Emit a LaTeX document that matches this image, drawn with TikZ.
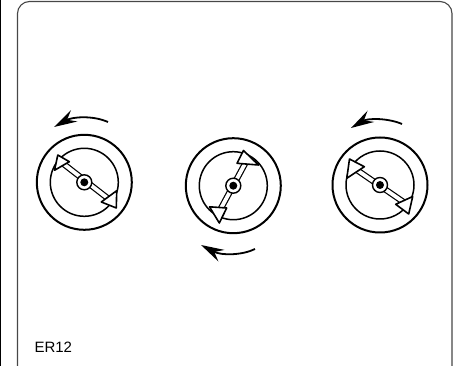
\documentclass[tikz,border=0pt]{standalone}
\usepackage{fontspec}
\setmainfont{Liberation Sans}
\usetikzlibrary{arrows.meta}

\begin{document}
\begin{tikzpicture}[
    x=1pt, y=-1pt,
    frame/.style={draw=black!72, line width=1.1pt, rounded corners=12pt},
    outer/.style={draw, circle, line width=2pt, minimum size=95pt, inner sep=0pt},
    inner/.style={draw, circle, line width=1.5pt, minimum size=68pt, inner sep=0pt},
    hub/.style={draw, circle, fill=white, line width=1.4pt, minimum size=15pt, inner sep=0pt},
    dot/.style={circle, fill=black, minimum size=8pt, inner sep=0pt},
    shaft/.style={draw=black, line width=1.2pt, double=white, double distance=3.8pt},
    head/.style={draw, fill=white, line width=1.6pt, line join=round},
    turn/.style={line width=1.8pt, -{Stealth[length=23pt, width=13pt, inset=8pt]}},
    label/.style={font=\fontsize{15}{18}\selectfont, anchor=base west, inner sep=0pt}
]
    \useasboundingbox (0,0) rectangle (456,366);
    \draw[line width=1.4pt] (0.7,0) -- (0.7,366);
    \draw[frame] (17.5,366.5) -- (17.5,1.5) -- (452,1.5) -- (452,366.5);

    % left dial
    \node[outer] (o1) at (84.3,182.3) {};
    \node[inner] (i1) at (84.3,182.3) {};
    \coordinate (a1) at (61,162);
    \coordinate (b1) at (110,200);
    \draw[shaft] (a1) -- (b1);
    \draw[head] (57.8,155) -- (69.3,161.7) -- (54.5,170.3) -- cycle;
    \draw[head] (116.7,190.7) -- (101.3,202) -- (116.3,208) -- cycle;
    \node[hub] (h1) at (84.3,182.3) {};
    \node[dot] (c1) at (84.3,182.3) {};

    % middle dial
    \node[outer] (o2) at (233.3,185.7) {};
    \node[inner] (i2) at (233.3,185.7) {};
    \coordinate (a2) at (247,160);
    \coordinate (b2) at (219,212);
    \draw[shaft] (a2) -- (b2);
    \draw[head] (243.5,150.5) -- (258.5,165) -- (237,163.3) -- cycle;
    \draw[head] (209.5,206.8) -- (226.7,208) -- (219.3,223) -- cycle;
    \node[hub] (h2) at (233.3,185.7) {};
    \node[dot] (c2) at (233.3,185.7) {};

    % right dial
    \node[outer] (o3) at (380,185) {};
    \node[inner] (i3) at (380,185) {};
    \coordinate (a3) at (354,168);
    \coordinate (b3) at (405,203);
    \draw[shaft] (a3) -- (b3);
    \draw[head] (349.5,159) -- (364.3,166.7) -- (346.8,178.3) -- cycle;
    \draw[head] (412.7,196.5) -- (395.7,204.3) -- (408.7,214) -- cycle;
    \node[hub] (h3) at (380,185) {};
    \node[dot] (c3) at (380,185) {};

    % rotation arrows
    \draw[turn] (108,122) .. controls (92,115) and (72,117) .. (54,127);
    \draw[turn] (255,249) .. controls (243,255) and (222,256) .. (201,245);
    \draw[turn] (402,124) .. controls (388,118) and (368,118) .. (351,128);

    \node[label] (er) at (34.3,353) {ER12};
\end{tikzpicture}
\end{document}
